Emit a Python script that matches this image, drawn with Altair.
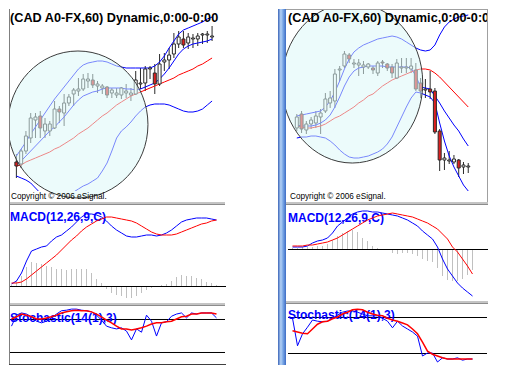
import altair as alt
import pandas as pd

# ---------------- texts ----------------
TITLE = "(CAD A0-FX,60) Dynamic,0:00-0:00"
COPYRIGHT = "Copyright \u00a9 2006 eSignal."
MACD_LABEL = "MACD(12,26,9,C)"
STOCH_LABEL = "Stochastic(14(1),3)"
STOCH_LEVELS = [80, 20]

# ---------------- left chart: candles (open, high, low, close) ----------------
L_open = [39, 37, 50, 63, 81, 85, 70, 70, 73, 92, 88, 98, 107, 110, 112, 120, 121, 115, 113, 114,
          108, 106, 106, 108, 106, 107, 117, 118, 132, 128, 117, 139, 141, 147, 157, 162, 158, 162, 162, 166,
          166, 164]
L_high = [47, 52, 70, 88, 88, 90, 83, 80, 100, 95, 107, 107, 113, 123, 127, 128, 127, 120, 117, 115,
          113, 113, 114, 117, 113, 130, 133, 135, 135, 137, 147, 148, 153, 168, 170, 170, 168, 167, 168, 168,
          170, 175]
L_low = [23, 33, 47, 58, 63, 63, 63, 65, 72, 78, 75, 95, 95, 105, 110, 113, 113, 108, 107, 103,
         103, 103, 102, 103, 100, 106, 112, 110, 122, 107, 115, 130, 132, 143, 153, 153, 152, 153, 155, 157,
         158, 160]
L_close = [35, 50, 65, 83, 84, 73, 77, 77, 92, 89, 98, 104, 111, 112, 122, 122, 116, 117, 115, 106,
           111, 108, 113, 110, 108, 121, 118, 132, 133, 117, 137, 141, 146, 157, 164, 156, 164, 163, 165, 167,
           167, 165]
L_upper = [45, 52, 59, 67, 74, 81, 88, 95, 102, 108, 114, 120, 126, 132, 136, 138, 139, 140, 140, 139,
           137, 135, 134, 133, 133, 133, 133, 133, 133, 135, 139, 145, 153, 160, 167, 171, 173, 175, 177, 179,
           182, 184]
L_mid = [37, 40, 45, 50, 55, 60, 65, 70, 74, 79, 84, 90, 96, 101, 105, 107, 109, 110, 112, 113,
         113, 113, 113, 112, 112, 111, 112, 114, 116, 118, 122, 127, 133, 140, 147, 152, 155, 157, 158, 159,
         160, 162]
L_ma = [35, 36, 39, 41, 43, 45, 47, 49, 52, 54, 57, 60, 63, 67, 70, 73, 77, 81, 85, 88,
        92, 96, 99, 102, 105, 107, 109, 111, 113, 115, 117, 119, 121, 123, 126, 128, 130, 132, 135, 137,
        140, 143]
L_lower = [25, 23, 21, 18, 13, 8, 4, 1, -1, -1, 1, 4, 9, 12, 15, 17, 20, 23, 30, 38,
           50, 63, 70, 74, 79, 85, 90, 94, 96, 97, 97, 97, 96, 94, 92, 90, 89, 89, 90, 92,
           96, 100]
L_macd = [2, 5, 13, 25, 35, 37, 39, 40, 45, 49, 51, 55, 59, 64, 69, 72, 72, 71, 69, 65,
          60, 56, 53, 50, 49, 49, 50, 51, 51, 50, 51, 53, 56, 60, 64, 66, 67, 68, 68, 68,
          67, 66]
L_signal = [3, 3, 4, 7, 11, 15, 19, 23, 27, 31, 36, 41, 46, 50, 55, 59, 62, 65, 67, 69,
            69, 68, 67, 66, 65, 63, 60, 57, 54, 52, 51, 51, 51, 52, 54, 56, 58, 60, 62, 63,
            65, 66]
L_hist = [1, 5, 10, 19, 24, 23, 22, 20, 19, 17, 17, 16, 17, 17, 17, 17, 13, 7, 3, -3,
          -7, -9, -10, -12, -12, -10, -7, -4, -2, -1, 1, 2, 5, 9, 11, 10, 10, 8, 7, 4,
          3, 1]
L_k = [67, 87, 91, 89, 84, 76, 73, 76, 82, 89, 95, 96, 98, 98, 96, 95, 93, 87, 78, 67,
       64, 62, 64, 58, 42, 62, 56, 87, 76, 49, 73, 75, 85, 89, 91, 82, 91, 89, 91, 91,
       91, 82]
L_d = [80, 84, 89, 87, 84, 80, 80, 82, 84, 87, 91, 93, 95, 96, 95, 95, 93, 89, 84, 78,
       73, 67, 62, 62, 60, 62, 64, 67, 71, 73, 73, 75, 76, 80, 84, 85, 89, 89, 91, 91,
       91, 89]
L_highlight = {"i": [12.9], "v": [76.5]}

# ---------------- right chart ----------------
R_open = [73, 87, 71, 77, 78, 84, 90, 98, 100, 131, 135, 146, 137, 136, 134, 134, 133, 128, 139, 137,
          134, 123, 133, 133, 132, 131, 118, 111, 112, 110, 70, 41, 40, 39, 41, 34, 34]
R_high = [87, 90, 80, 84, 90, 92, 108, 110, 132, 135, 150, 148, 142, 142, 140, 138, 135, 140, 141, 138,
          137, 142, 143, 143, 143, 138, 123, 122, 130, 113, 72, 48, 50, 46, 42, 39, 38]
R_low = [70, 68, 67, 72, 73, 67, 88, 93, 93, 120, 133, 138, 133, 125, 127, 132, 127, 125, 133, 130,
         123, 122, 128, 128, 128, 110, 103, 103, 102, 67, 30, 31, 37, 37, 24, 27, 28]
R_close = [84, 72, 77, 81, 85, 88, 102, 103, 127, 132, 147, 142, 138, 138, 136, 137, 131, 138, 138, 133,
           128, 138, 134, 134, 135, 112, 110, 112, 109, 69, 41, 43, 41, 42, 33, 36, 35]
R_upper = [85, 86, 87, 88, 89, 90, 94, 100, 109, 120, 132, 142, 149, 153, 156, 158, 160, 162, 163, 164,
           165, 164, 162, 159, 156, 153, 151, 150, 151, 156, 166, 174, 179, 182, 184, 185, 186]
R_mid = [76, 75, 75, 75, 76, 78, 81, 86, 94, 104, 115, 124, 130, 133, 134, 135, 135, 135, 135, 134,
         134, 134, 134, 134, 133, 125, 114, 113, 112, 105, 98, 90, 83, 76, 70, 62, 55]
R_ma = [75, 74, 73, 73, 74, 75, 77, 80, 83, 85, 88, 91, 94, 98, 101, 105, 107, 111, 115, 118,
        121, 123, 125, 127, 129, 131, 132, 132, 131, 128, 124, 119, 114, 109, 104, 99, 94]
R_lower = [63, 64, 64, 65, 65, 64, 63, 60, 56, 51, 47, 44, 43, 43, 44, 45, 47, 49, 52, 57,
           64, 74, 84, 94, 103, 109, 108, 106, 104, 98, 78, 60, 45, 34, 25, 16, 10]
R_macd = [2, 2, 2, 3, 6, 8, 9, 11, 16, 23, 27, 31, 35, 37, 38, 38, 37, 37, 36, 35,
          34, 33, 31, 29, 26, 23, 18, 14, 10, 2, -10, -20, -27, -34, -39, -43, -47]
R_signal = [3, 3, 3, 4, 4, 5, 6, 7, 9, 11, 14, 17, 20, 23, 26, 29, 31, 33, 34, 35,
            36, 35, 34, 33, 32, 30, 28, 26, 23, 20, 15, 10, 2, -3, -10, -17, -25]
R_hist = [1, 1, 2, 2, 2, 3, 3, 5, 9, 13, 16, 18, 19, 17, 11, 8, 3, 1, 0, -1,
          -4, -5, -4, -4, -5, -7, -10, -12, -13, -19, -27, -31, -32, -32, -30, -26, -21]
R_k = [78, 32, 52, 63, 75, 73, 72, 73, 78, 83, 88, 90, 90, 88, 85, 82, 82, 82, 78, 73,
       62, 73, 65, 60, 55, 48, 15, 20, 20, 5, 12, 10, 10, 12, 8, 10, 10]
R_d = [57, 55, 53, 52, 60, 68, 72, 73, 77, 80, 85, 88, 92, 93, 92, 88, 85, 83, 82, 78,
       75, 73, 70, 67, 60, 52, 38, 23, 18, 15, 12, 10, 10, 10, 10, 10, 10]
R_highlight = {"i": [11.64], "v": [118.0]}

# ---------------- styles ----------------
BLUE = "#0000ff"
RED = "#ff0000"
WICK = "#2a2a2a"
DOWN = "#dd2020"
HIST = "#c0c0c0"
BORDER = "#808080"
SEP = "#c4c4c4"
SEP_DARK = "#8c8c8c"
TITLE_FONT = "Liberation Sans"
LABEL_FONT = "Liberation Sans"


def one(**kw):
    return pd.DataFrame({k: [v] for k, v in kw.items()})


def build_column(c, g):
    n = len(c["open"])
    df = pd.DataFrame({
        "i": list(range(n)), "O": c["open"], "H": c["high"], "L": c["low"], "C": c["close"],
        "U": c["upper"], "M": c["mid"], "MA": c["ma"], "LO": c["lower"],
        "macd": c["macd"], "sig": c["signal"], "hist": c["hist"], "k": c["k"], "d": c["d"],
    })
    xs = alt.Scale(domain=g["xdom"], nice=False, zero=False)

    def X():
        return alt.X("i:Q", scale=xs, axis=None)

    def Y(field, dom):
        return alt.Y(f"{field}:Q", scale=alt.Scale(domain=dom, nice=False, zero=False), axis=None)

    W = g["width"]
    hp, hm, hs = g["heights"]
    pdom, mdom, sdom = g["pdom"], g["mdom"], g["sdom"]
    base = alt.Chart(df)

    # -------- price panel --------
    P = []
    P.append(base.mark_rule(color=WICK, strokeWidth=1).encode(x=X(), y=Y("H", pdom), y2="L:Q"))
    for f, col in [("U", BLUE), ("M", BLUE), ("MA", RED), ("LO", BLUE)]:
        P.append(base.mark_line(color=col, strokeWidth=1, clip=True).encode(x=X(), y=Y(f, pdom)))
    P.append(base.mark_bar(size=3, stroke=WICK, strokeWidth=1).encode(
        x=X(), y=Y("O", pdom), y2="C:Q",
        fill=alt.condition("datum.C >= datum.O", alt.value("#ffffff"), alt.value(DOWN))))
    # copyright strip
    P.append(alt.Chart(one(a=1)).mark_rect(color="white").encode(
        x=alt.value(g["strip_x"]), x2=alt.value(W), y=alt.value(hp - 11), y2=alt.value(hp)))
    hl = pd.DataFrame(g["highlight"])
    r = g["ell_ratio"]
    path = f"M-1,0A1,{r},0,1,0,1,0A1,{r},0,1,0,-1,0Z"
    P.append(alt.Chart(hl).mark_point(shape=path, size=g["ell_size"], filled=True, fill="#dcf8f8",
                                      fillOpacity=0.55, stroke="#3c3c3c", strokeWidth=1, strokeOpacity=1,
                                      opacity=1, clip=True).encode(x=X(), y=Y("v", pdom)))
    P.append(alt.Chart(one(t=COPYRIGHT)).mark_text(
        align="left", baseline="alphabetic", font=TITLE_FONT, fontSize=8.2, color="black", clip=True
    ).encode(text="t:N", x=alt.value(g["copy_xy"][0]), y=alt.value(g["copy_xy"][1])))
    P.append(alt.Chart(one(t=TITLE)).mark_text(
        align="left", baseline="alphabetic", font=TITLE_FONT, fontSize=12.7, fontWeight="bold",
        color="black", clip=True
    ).encode(text="t:N", x=alt.value(g["text_x"]), y=alt.value(12.7)))

    # -------- MACD panel --------
    Mx = []
    Mx.append(alt.Chart(one(a=1)).mark_rect(color=SEP).encode(
        x=alt.value(g["sep_x"][0]), x2=alt.value(g["sep_x"][1]), y=alt.value(0), y2=alt.value(3)))
    Mx.append(alt.Chart(one(a=1)).mark_rule(color=SEP_DARK).encode(
        x=alt.value(g["sep_x"][0]), x2=alt.value(g["sep_x"][1]), y=alt.value(2.5)))
    Mx.append(base.mark_rule(color=HIST, strokeWidth=1).encode(x=X(), y=Y("hist", mdom), y2=alt.datum(0)))
    Mx.append(alt.Chart(one(z=0)).mark_rule(color="black", strokeWidth=1, yOffset=0.5).encode(
        y=Y("z", mdom), x=alt.value(g["line_x"][0]), x2=alt.value(g["line_x"][1])))
    Mx.append(alt.Chart(one(t=MACD_LABEL)).mark_text(
        align="left", baseline="alphabetic", font=LABEL_FONT, fontSize=12, fontWeight="bold", color=BLUE,
        clip=True
    ).encode(text="t:N", x=alt.value(g["text_x"]), y=alt.value(g["macd_base"])))
    Mx.append(base.mark_line(color=BLUE, strokeWidth=1, clip=True).encode(x=X(), y=Y("macd", mdom)))
    Mx.append(base.mark_line(color=RED, strokeWidth=1, clip=True).encode(x=X(), y=Y("sig", mdom)))

    # -------- Stochastic panel --------
    S = []
    S.append(alt.Chart(one(a=1)).mark_rect(color=SEP).encode(
        x=alt.value(g["sep_x"][0]), x2=alt.value(g["sep_x"][1]), y=alt.value(0), y2=alt.value(3)))
    S.append(alt.Chart(one(a=1)).mark_rule(color=SEP_DARK).encode(
        x=alt.value(g["sep_x"][0]), x2=alt.value(g["sep_x"][1]), y=alt.value(2.5)))
    S.append(alt.Chart(pd.DataFrame({"lvl": STOCH_LEVELS})).mark_rule(
        color="black", strokeWidth=1, yOffset=0.5).encode(
        y=Y("lvl", sdom), x=alt.value(g["line_x"][0]), x2=alt.value(g["line_x"][1] - 1)))
    S.append(alt.Chart(one(t=STOCH_LABEL)).mark_text(
        align="left", baseline="alphabetic", font=LABEL_FONT, fontSize=12, fontWeight="bold", color=BLUE,
        clip=True
    ).encode(text="t:N", x=alt.value(g["text_x"]), y=alt.value(g["stoch_base"])))
    S.append(base.mark_line(color=BLUE, strokeWidth=1, clip=True).encode(x=X(), y=Y("k", sdom)))
    S.append(base.mark_line(color=RED, strokeWidth=1.5, clip=True).encode(x=X(), y=Y("d", sdom)))

    if g["left"]:
        for lst, h in [(P, hp), (Mx, hm), (S, hs)]:
            lst.append(alt.Chart(one(a=1)).mark_rule(color=BORDER).encode(
                x=alt.value(0.5), y=alt.value(0), y2=alt.value(h)))
        S.append(alt.Chart(one(a=1)).mark_rule(color="#404040").encode(
            x=alt.value(0), x2=alt.value(g["line_x"][1]), y=alt.value(hs - 0.5)))
    else:
        grad = alt.LinearGradient(gradient="linear", x1=0, x2=1, y1=0, y2=0, stops=[
            alt.GradientStop(offset=0, color="#3a64b8"),
            alt.GradientStop(offset=0.35, color="#b4d2f6"),
            alt.GradientStop(offset=0.65, color="#74a2e4"),
            alt.GradientStop(offset=1, color="#3d6cc4")])
        for lst, h in [(P, hp), (Mx, hm), (S, hs)]:
            lst.append(alt.Chart(one(a=1)).mark_rect(color=grad).encode(
                x=alt.value(0), x2=alt.value(8), y=alt.value(0), y2=alt.value(h)))
        P.append(alt.Chart(one(a=1)).mark_rule(color="#a0a0a0").encode(
            x=alt.value(W - 0.5), y=alt.value(0), y2=alt.value(hp)))
        P.append(alt.Chart(one(a=1)).mark_rule(color="#a0a0a0").encode(
            x=alt.value(8), x2=alt.value(W), y=alt.value(0.5)))

    pp = alt.layer(*P).properties(width=W, height=hp)
    mm = alt.layer(*Mx).properties(width=W, height=hm)
    ss = alt.layer(*S).properties(width=W, height=hs)
    return alt.vconcat(pp, mm, ss, spacing=0, bounds="flush").resolve_scale(x="independent", y="independent")


left_data = dict(open=L_open, high=L_high, low=L_low, close=L_close, upper=L_upper, mid=L_mid, ma=L_ma,
                 lower=L_lower, macd=L_macd, signal=L_signal, hist=L_hist, k=L_k, d=L_d)
right_data = dict(open=R_open, high=R_high, low=R_low, close=R_close, upper=R_upper, mid=R_mid, ma=R_ma,
                  lower=R_lower, macd=R_macd, signal=R_signal, hist=R_hist, k=R_k, d=R_d)

left_geom = dict(left=True, width=220, heights=(193, 101, 62), xdom=[-0.5, 43.5],
                 pdom=[-1, 192], mdom=[-17, 84], sdom=[-3.64, 109.09],
                 text_x=1, copy_xy=(2, 189.5), macd_base=18.5, stoch_base=19,
                 sep_x=(0, 216), line_x=(1, 217), strip_x=0,
                 highlight=L_highlight, ell_size=19600, ell_ratio=1.05)
right_geom = dict(left=False, width=210, heights=(193, 99, 64), xdom=[-2.9, 39.1],
                  pdom=[-1, 192], mdom=[-52, 47], sdom=[0, 106.67],
                  text_x=10, copy_xy=(12, 190), macd_base=20, stoch_base=18,
                  sep_x=(8, 210), line_x=(10, 210), strip_x=8,
                  highlight=R_highlight, ell_size=19881, ell_ratio=1.135)

left_col = build_column(left_data, left_geom)
right_col = build_column(right_data, right_geom)

chart = alt.hconcat(left_col, right_col, spacing=49).resolve_scale(
    x="independent", y="independent"
).properties(padding=0, background="white").configure_view(stroke=None)

chart.save("out.html", embed_options={"renderer": "svg", "actions": False})
